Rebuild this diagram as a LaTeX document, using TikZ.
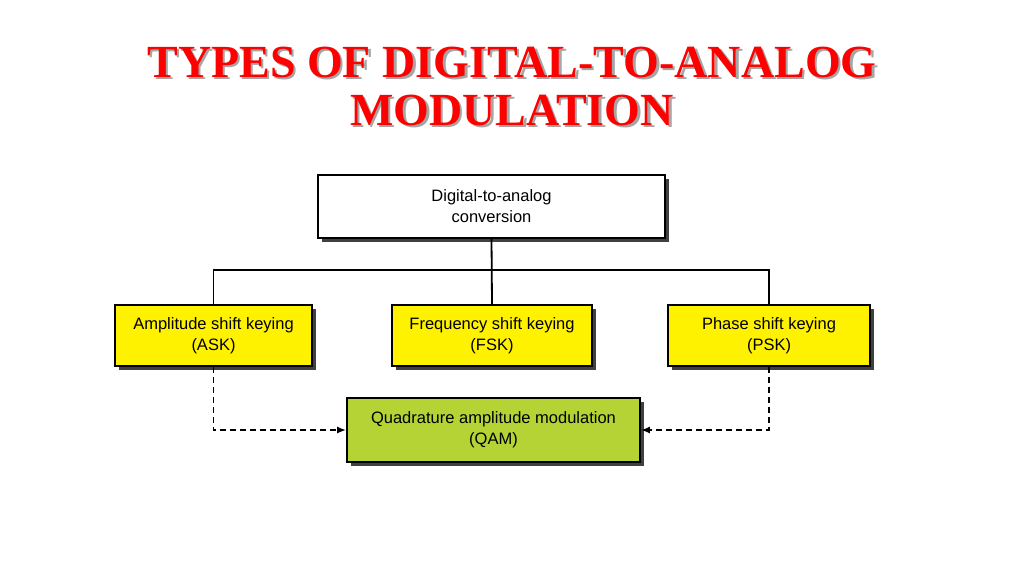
\documentclass[tikz,border=0pt]{standalone}
\usepackage{fontspec}
\usetikzlibrary{arrows.meta}
\setmainfont{Liberation Serif}
\newfontfamily\boxfont{Liberation Sans}
\begin{document}
\begin{tikzpicture}[x=1pt,y=-1pt,
  box/.style={draw=black,line width=1.8pt,minimum height=61pt,align=center,font=\boxfont\fontsize{16.5}{21}\selectfont,inner sep=0pt,
    preaction={fill=black!75,transform canvas={shift={(3.5pt,-3.5pt)}}}},
  conn/.style={line width=1.8pt},
  dconn/.style={line width=1.6pt,dash pattern=on 6pt off 4pt,-{Latex[length=9pt,width=7pt]}}]
\useasboundingbox (0,0) rectangle (1024,576);
\fill[white] (0,0) rectangle (1024,576);
\foreach \dx/\c in {2.5/gray!70, 0/red}{
 \node[text=\c,font=\bfseries\fontsize{46}{48}\selectfont,align=center] at (512+\dx,86+\dx) {TYPES OF DIGITAL-TO-ANALOG\\MODULATION};}
\node[box,fill=white,minimum width=347pt,minimum height=63pt] (top) at (491.5,206.5) {Digital-to-analog\\conversion};
\node[box,fill=yellow,minimum width=197pt] (ask) at (213.5,335.5) {Amplitude shift keying\\(ASK)};
\node[box,fill=yellow,minimum width=200pt] (fsk) at (492,335.5) {Frequency shift keying\\(FSK)};
\node[box,fill=yellow,minimum width=202pt] (psk) at (769,335.5) {Phase shift keying\\(PSK)};
\node[box,fill={rgb,255:red,181;green,211;blue,52},minimum width=293pt,minimum height=64pt] (qam) at (493.5,430) {Quadrature amplitude modulation\\(QAM)};
\coordinate (bar) at (0,270);
\draw[conn] (top.south) -- (fsk.north);
\draw[conn] (ask.north) |- (bar -| top.south) -| (psk.north);
\draw[dconn] (ask.south) |- (qam.west);
\draw[dconn] (psk.south) |- (qam.east);
\end{tikzpicture}
\end{document}
